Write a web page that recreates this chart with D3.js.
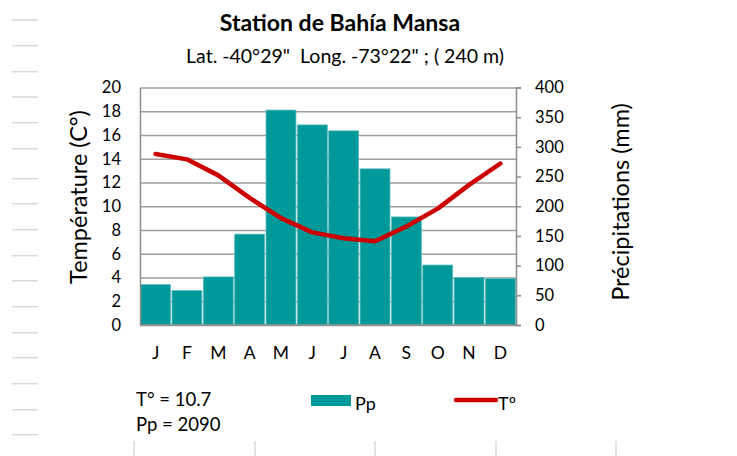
<!DOCTYPE html>
<html>
<head>
<meta charset="utf-8">
<script src="https://cdn.jsdelivr.net/npm/d3@7"></script>
<style>
  body { margin: 0; background: #fff; }
  svg { display: block; }
  text { font-family: Lato, "Open Sans", sans-serif; fill: #000; }
</style>
</head>
<body>
<div id="chart"></div>
<script>
// climate data
var months = ["J", "F", "M", "A", "M", "J", "J", "A", "S", "O", "N", "D"];
var precip = [68, 58, 81, 153, 362, 337, 327, 263, 182, 101, 80, 78];
var temp = [14.4, 13.95, 12.6, 10.7, 9.0, 7.8, 7.3, 7.05, 8.3, 9.8, 11.8, 13.6];
var tempTicks = [0, 2, 4, 6, 8, 10, 12, 14, 16, 18, 20];
var precipTicks = [0, 50, 100, 150, 200, 250, 300, 350, 400];

function draw() {
  var w = 737;
  var h = 456;

  var svg = d3.select("#chart")
    .append("svg")
    .attr("width", w)
    .attr("height", h);

  // spreadsheet background bits (row marks on the left, column marks at the bottom)
  var rowHeights = [25.7, 26, 25.3, 25.7, 26, 30, 25, 26, 26, 25, 26, 26, 25, 26, 26, 25];
  var rowY = [20];
  rowHeights.forEach(function(d, i) { rowY.push(rowY[i] + d); });
  svg.selectAll("line.row")
    .data(rowY)
    .enter().append("line")
    .attr("x1", 12).attr("x2", 38)
    .attr("y1", d => d).attr("y2", d => d)
    .attr("stroke", "#d9d9d9")
    .attr("stroke-width", 1.5);

  var colX = [134, 255, 375, 496, 616];
  svg.selectAll("line.col")
    .data(colX)
    .enter().append("line")
    .attr("x1", d => d).attr("x2", d => d)
    .attr("y1", 441).attr("y2", h)
    .attr("stroke", "#d9d9d9")
    .attr("stroke-width", 1.5);

  // plot area
  var pLeft = 140, pRight = 516, pTop = 87.5, pBottom = 325;

  var x = d3.scaleBand()
    .domain(d3.range(months.length))
    .range([pLeft, pRight])
    .paddingInner(0.045)
    .paddingOuter(0.02);

  var yT = d3.scaleLinear().domain([0, 20]).range([pBottom, pTop]);
  var yP = d3.scaleLinear().domain([0, 400]).range([pBottom, pTop]);

  // gridlines on the temperature ticks
  svg.append("g")
    .attr("transform", "translate(" + pLeft + ",0)")
    .call(d3.axisLeft(yT).tickValues(tempTicks).tickSize(-(pRight - pLeft)).tickFormat(""))
    .call(g => g.select(".domain").remove())
    .call(g => g.selectAll("line").attr("stroke", "#9e9e9e").attr("stroke-width", 1.5));

  // bars
  svg.selectAll("rect.bar")
    .data(precip)
    .enter().append("rect")
    .attr("x", (d, i) => x(i))
    .attr("y", d => yP(d))
    .attr("width", x.bandwidth())
    .attr("height", d => pBottom - yP(d))
    .attr("fill", "#009999")
    .attr("stroke", "#5fbdbd")
    .attr("stroke-width", 0.8);

  // left axis
  var axL = svg.append("g")
    .attr("transform", "translate(" + pLeft + ",0)")
    .call(d3.axisLeft(yT).tickValues(tempTicks).tickSize(0).tickPadding(19));
  axL.select(".domain").attr("stroke", "#8c8c8c").attr("stroke-width", 1.5);
  axL.selectAll("text").style("font-size", "16.5px").style("font-family", "Lato, sans-serif");

  // right axis
  var axR = svg.append("g")
    .attr("transform", "translate(" + pRight + ",0)")
    .call(d3.axisRight(yP).tickValues(precipTicks).tickSize(5).tickPadding(14));
  axR.select(".domain").attr("stroke", "#8c8c8c").attr("stroke-width", 1.5);
  axR.selectAll("line").attr("stroke", "#8c8c8c").attr("stroke-width", 1.5);
  axR.selectAll("text").style("font-size", "16.5px").style("font-family", "Lato, sans-serif");

  // bottom line and month labels
  svg.append("line")
    .attr("x1", pLeft).attr("x2", pRight)
    .attr("y1", pBottom).attr("y2", pBottom)
    .attr("stroke", "#8c8c8c").attr("stroke-width", 1.5);

  svg.selectAll("text.month")
    .data(months)
    .enter().append("text")
    .attr("x", (d, i) => x(i) + x.bandwidth() / 2)
    .attr("y", 359)
    .style("text-anchor", "middle")
    .style("font-size", "17.5px")
    .text(d => d);

  // temperature line
  var line = d3.line()
    .x((d, i) => x(i) + x.bandwidth() / 2)
    .y(d => yT(d));

  svg.append("path")
    .datum(temp)
    .attr("d", line)
    .attr("fill", "none")
    .attr("stroke", "#cc0000")
    .attr("stroke-width", 4.5)
    .attr("stroke-linecap", "round")
    .attr("stroke-linejoin", "round");

  // titles
  svg.append("text")
    .attr("x", 340).attr("y", 31)
    .style("text-anchor", "middle")
    .style("font-size", "23px")
    .style("font-weight", "bold")
    .text("Station de Bahía Mansa");

  svg.append("text")
    .attr("x", 345).attr("y", 63)
    .style("text-anchor", "middle")
    .style("font-size", "19.5px")
    .attr("xml:space", "preserve")
    .text("Lat. -40°29\"  Long. -73°22\" ; ( 240 m)");

  svg.append("text")
    .attr("transform", "translate(87,197) rotate(-90)")
    .style("text-anchor", "middle")
    .style("font-size", "23.5px")
    .text("Température (C°)");

  svg.append("text")
    .attr("transform", "translate(629,202) rotate(-90)")
    .style("text-anchor", "middle")
    .style("font-size", "23.5px")
    .text("Précipitations (mm)");

  // legend
  svg.append("rect")
    .attr("x", 311).attr("y", 395)
    .attr("width", 40).attr("height", 11)
    .attr("fill", "#009999");
  svg.append("text")
    .attr("x", 355).attr("y", 410)
    .style("font-size", "18px")
    .text("Pp");

  svg.append("line")
    .attr("x1", 456).attr("x2", 496)
    .attr("y1", 400).attr("y2", 400)
    .attr("stroke", "#cc0000")
    .attr("stroke-width", 4.5)
    .attr("stroke-linecap", "round");
  svg.append("text")
    .attr("x", 498).attr("y", 410)
    .style("font-size", "18px")
    .text("Tº");

  // summary
  svg.append("text")
    .attr("x", 136).attr("y", 406)
    .style("font-size", "18.5px")
    .text("T° = 10.7");
  svg.append("text")
    .attr("x", 136).attr("y", 431)
    .style("font-size", "18.5px")
    .text("Pp = 2090");
}

draw();
</script>
</body>
</html>
